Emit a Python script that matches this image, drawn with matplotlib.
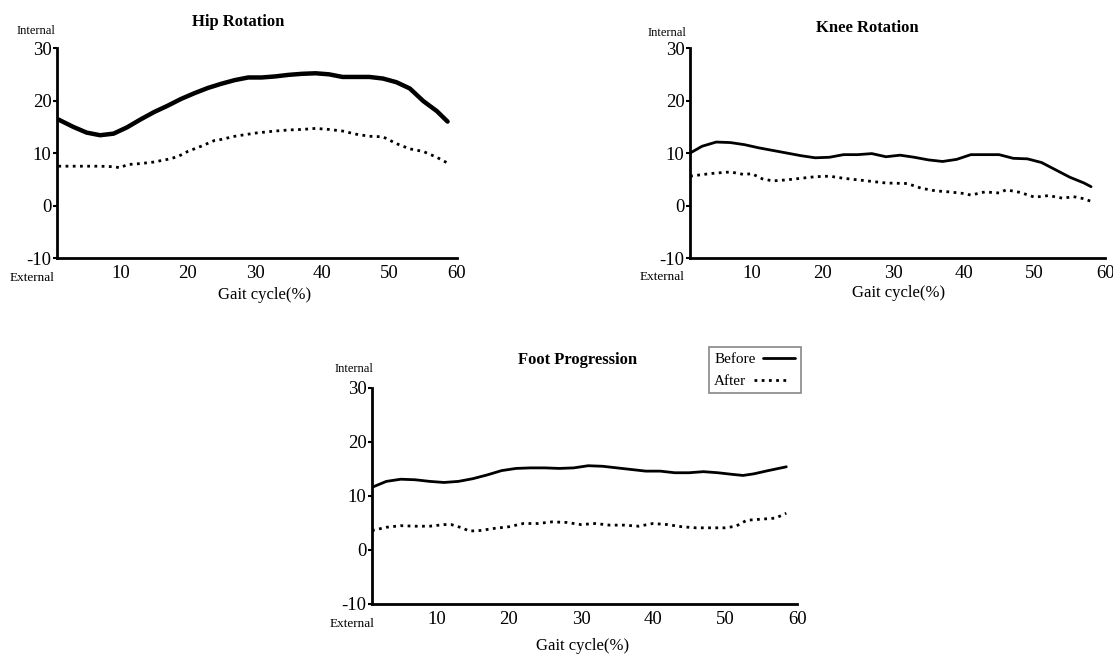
import matplotlib.pyplot as plt

plt.rcParams['font.family'] = ['Liberation Serif', 'DejaVu Serif']
plt.rcParams['axes.unicode_minus'] = False

# Hip rotation
hip_x = [0.8, 3, 5, 7, 9, 11, 13, 15, 17, 19, 21, 23, 25, 27, 29, 31, 33, 35, 37, 39,
         41, 43, 45, 47, 49, 51, 53, 55, 57, 58.6]
hip_before = [16.4, 15.0, 13.9, 13.4, 13.7, 14.9, 16.4, 17.8, 19.0, 20.3, 21.4, 22.4, 23.2, 23.9,
              24.4, 24.4, 24.6, 24.9, 25.1, 25.2, 25.0, 24.5, 24.5, 24.5, 24.2, 23.5, 22.3, 19.9,
              18.0, 16.0]
hip_after_x = [0.8, 3, 5, 7, 9, 10, 11, 13, 15, 17, 18.5, 20, 22, 24, 25, 27, 30, 33, 35, 37,
               39, 41, 43, 45, 47, 49, 51, 53, 55, 57, 58.6]
hip_after = [7.5, 7.5, 7.5, 7.5, 7.4, 7.2, 7.8, 8.0, 8.3, 8.8, 9.3, 10.3, 11.3, 12.4, 12.6, 13.2,
             13.8, 14.2, 14.4, 14.5, 14.7, 14.5, 14.2, 13.6, 13.2, 13.1, 11.8, 10.8, 10.3, 9.2, 8.1]

# Knee rotation
knee_x = [1.3, 3, 5, 7, 9, 11, 13, 15, 17, 19, 21, 23, 25, 27, 29, 31, 33, 35, 37, 39,
          41, 43, 45, 47, 49, 51, 53, 55, 57, 58]
knee_before = [10.0, 11.3, 12.1, 12.0, 11.6, 11.0, 10.5, 10.0, 9.5, 9.1, 9.2, 9.7, 9.7, 9.9,
               9.3, 9.6, 9.2, 8.7, 8.4, 8.8, 9.7, 9.7, 9.7, 9.0, 8.9, 8.2, 6.8, 5.4, 4.3, 3.6]
knee_after_x = [1.3, 3, 5, 7, 9, 10, 11.5, 13, 15, 17, 19, 21, 23, 25, 27, 29, 32, 34, 36, 38,
                40, 41, 43, 45, 46, 48, 50, 52, 54, 55.5, 57, 58]
knee_after = [5.6, 5.9, 6.2, 6.4, 5.9, 6.1, 5.1, 4.7, 4.9, 5.2, 5.5, 5.6, 5.2, 4.9, 4.6, 4.3,
              4.2, 3.3, 2.8, 2.6, 2.3, 2.0, 2.6, 2.4, 3.0, 2.5, 1.6, 1.9, 1.4, 1.7, 1.3, 0.8]

# Foot progression
foot_x = [1, 3, 5, 7, 9, 11, 13, 15, 17, 19, 21, 23, 25, 27, 29, 31, 33, 35, 37, 39,
          41, 43, 45, 47, 49, 51, 52.5, 54, 56, 58.5]
foot_before = [11.6, 12.7, 13.1, 13.0, 12.7, 12.5, 12.7, 13.2, 13.9, 14.7, 15.1, 15.2, 15.2,
               15.1, 15.2, 15.6, 15.5, 15.2, 14.9, 14.6, 14.6, 14.3, 14.3, 14.5, 14.3, 14.0,
               13.8, 14.1, 14.7, 15.4]
foot_after_x = [1, 3, 5, 7, 9, 11, 12, 13.5, 14.5, 16, 18, 20, 22, 24, 26, 28, 30, 32, 34, 36,
                38, 40, 42, 44, 46, 48, 50, 51.5, 53, 55, 57, 58.5]
foot_after = [3.6, 4.2, 4.5, 4.4, 4.4, 4.7, 4.7, 4.1, 3.5, 3.6, 4.0, 4.3, 4.9, 4.9, 5.2, 5.1,
              4.7, 4.9, 4.6, 4.6, 4.4, 4.9, 4.7, 4.3, 4.1, 4.1, 4.1, 4.4, 5.5, 5.7, 5.9, 6.8]

y_ticks = [-10, 0, 10, 20, 30]
x_ticks = [10, 20, 30, 40, 50, 60]

fig = plt.figure(figsize=(11.13, 6.55), dpi=100)

ax1 = fig.add_axes([0.0512, 0.606, 0.3594, 0.3206])
ax2 = fig.add_axes([0.620, 0.606, 0.373, 0.3206])
ax3 = fig.add_axes([0.3342, 0.0779, 0.382, 0.3298])


def style(ax, xmin):
    ax.set_xlim(xmin, 60)
    ax.set_ylim(-10, 30)
    ax.set_xticks(x_ticks)
    ax.set_yticks(y_ticks)
    for s in ['top', 'right']:
        ax.spines[s].set_visible(False)
    for s in ['left', 'bottom']:
        ax.spines[s].set_linewidth(2)
    ax.tick_params(axis='y', length=3, width=1.5, labelsize=13.5, pad=1)
    ax.tick_params(axis='x', length=0, labelsize=13.5, pad=5)


dots = (0, (1, 1.6))

ax1.plot(hip_x, hip_before, color='black', lw=3.2, solid_capstyle='round')
ax1.plot(hip_after_x, hip_after, color='black', lw=2, linestyle=dots)
style(ax1, 0.6)

ax2.plot(knee_x, knee_before, color='black', lw=2, solid_capstyle='round')
ax2.plot(knee_after_x, knee_after, color='black', lw=2, linestyle=dots)
style(ax2, 1.3)

l1, = ax3.plot(foot_x, foot_before, color='black', lw=2, solid_capstyle='round', label='Before')
l2, = ax3.plot(foot_after_x, foot_after, color='black', lw=2, linestyle=dots, label='After')
style(ax3, 1)

leg = fig.legend(handles=[l1, l2], loc='upper left', bbox_to_anchor=(0.630, 0.482),
                 markerfirst=False, fontsize=11, handlelength=2.1, handletextpad=0.5,
                 borderpad=0.35, labelspacing=0.55, fancybox=False, framealpha=1)
leg.get_frame().set_edgecolor('#888888')
leg.get_frame().set_linewidth(1.2)
leg._legend_handle_box.get_children()[0].align = 'left'

# titles and side labels
fig.text(0.214, 0.966, 'Hip Rotation', ha='center', va='center', fontsize=12, fontweight='bold')
fig.text(0.779, 0.957, 'Knee Rotation', ha='center', va='center', fontsize=12, fontweight='bold')
fig.text(0.519, 0.450, 'Foot Progression', ha='center', va='center', fontsize=12, fontweight='bold')

fig.text(0.032, 0.953, 'Internal', ha='center', va='center', fontsize=9)
fig.text(0.029, 0.575, 'External', ha='center', va='center', fontsize=9.5)
fig.text(0.599, 0.950, 'Internal', ha='center', va='center', fontsize=9)
fig.text(0.595, 0.577, 'External', ha='center', va='center', fontsize=9.5)
fig.text(0.318, 0.437, 'Internal', ha='center', va='center', fontsize=9)
fig.text(0.316, 0.048, 'External', ha='center', va='center', fontsize=9.5)

fig.text(0.238, 0.550, 'Gait cycle(%)', ha='center', va='center', fontsize=12)
fig.text(0.807, 0.553, 'Gait cycle(%)', ha='center', va='center', fontsize=12)
fig.text(0.523, 0.014, 'Gait cycle(%)', ha='center', va='center', fontsize=12)

fig.savefig('out.png', dpi=100)
